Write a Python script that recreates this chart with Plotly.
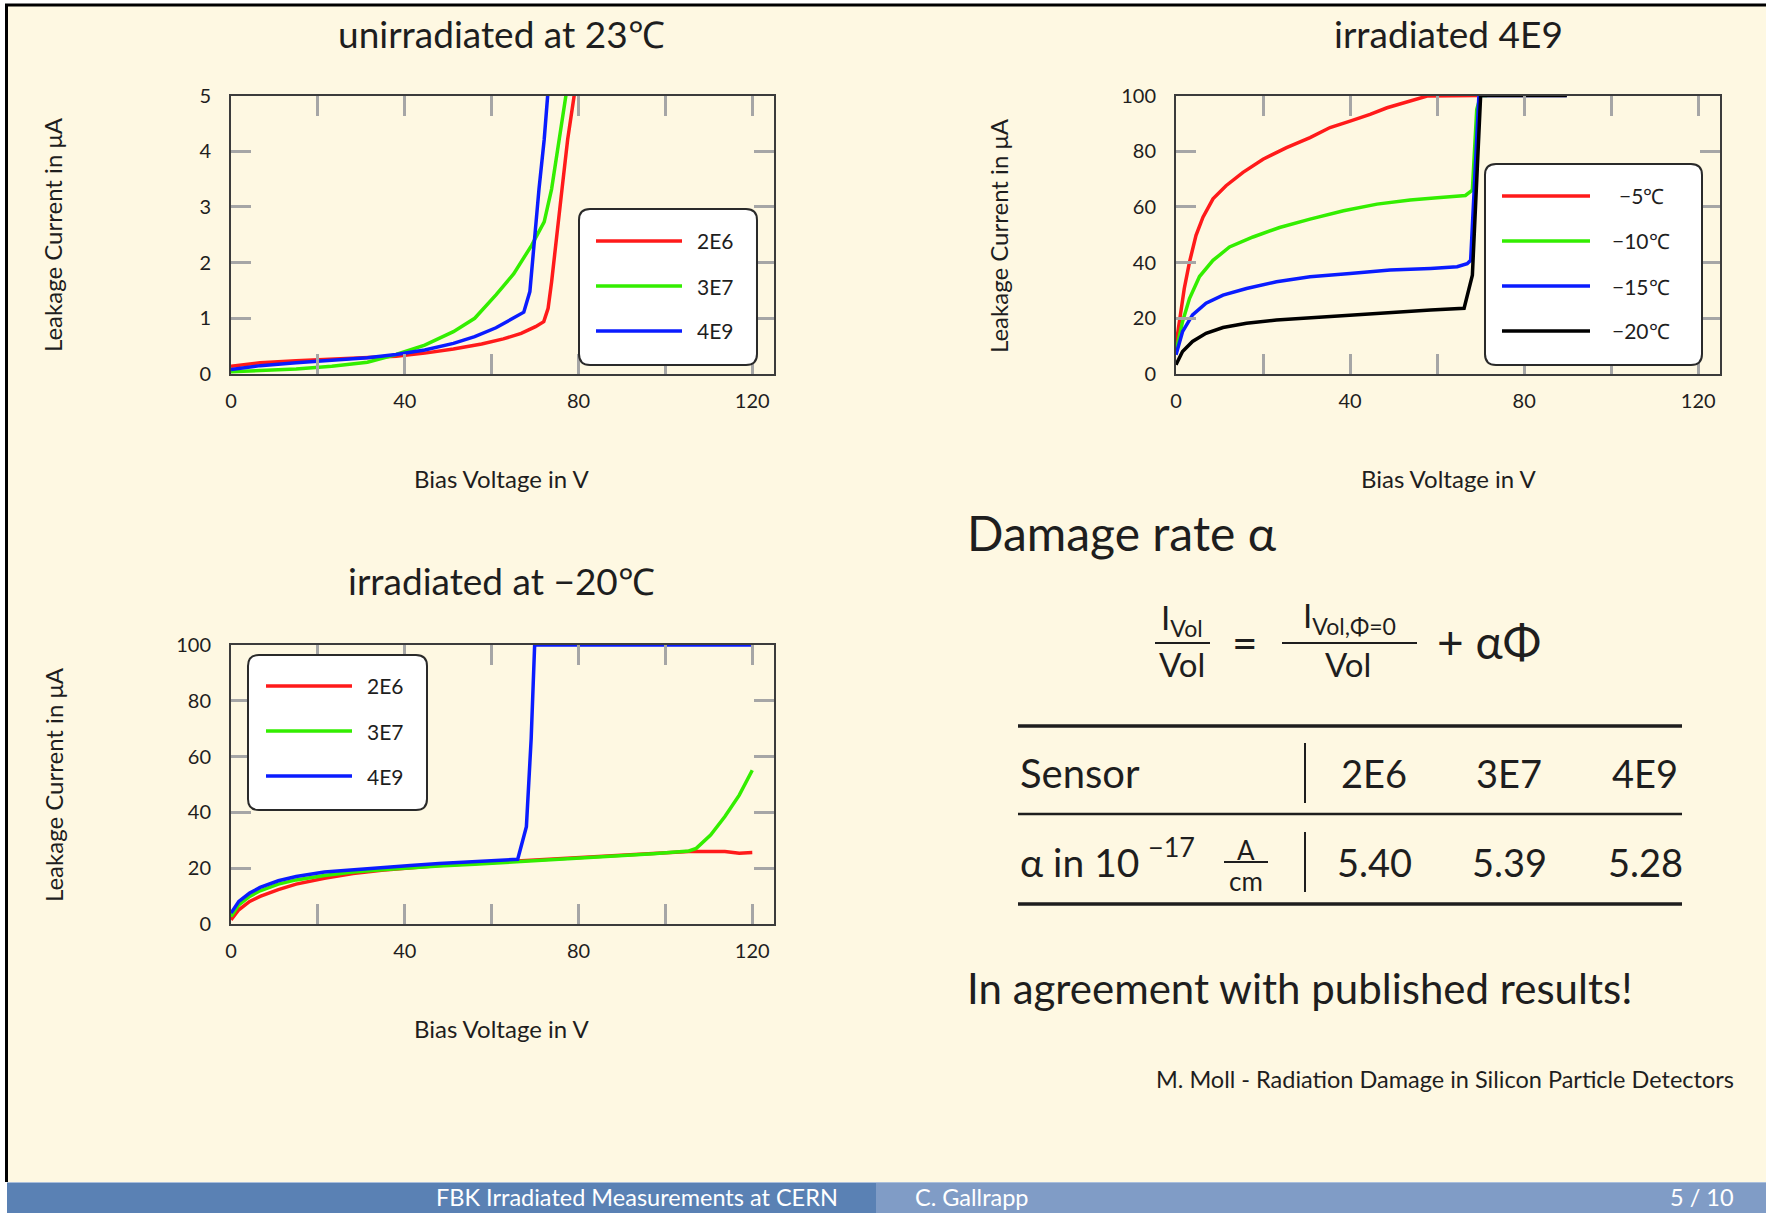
import plotly.graph_objects as go

W, H = 1766, 1213
FONT = "Lato, 'Open Sans', sans-serif"
BG = "#FEF8E2"
INK = "#1e1e1e"

# ---------------- data ----------------
# unirradiated sensors at 23 °C (bias voltage in V, leakage current in µA)
v_unirr_2e6 = [0, 6.7, 15, 23.2, 31.4, 38, 44.6, 51.2, 57.7, 62.7, 66.8, 70.1, 72, 73, 73.8, 75, 76.2, 77.5, 79]
i_unirr_2e6 = [0.14, 0.2, 0.24, 0.27, 0.3, 0.32, 0.375, 0.45, 0.54, 0.63, 0.73, 0.85, 0.94, 1.18, 1.65, 2.43, 3.32, 4.21, 5.0]
v_unirr_3e7 = [0, 6.7, 15, 23.2, 31.4, 38, 44.6, 51.2, 56.1, 61, 65.1, 69.2, 72.1, 73.8, 75.4, 77.1]
i_unirr_3e7 = [0.04, 0.06, 0.09, 0.14, 0.21, 0.35, 0.52, 0.76, 1.0, 1.42, 1.8, 2.31, 2.73, 3.32, 4.15, 5.0]
v_unirr_4e9 = [0, 6.7, 15, 23.2, 31.4, 38, 44.6, 51.2, 56.1, 61, 65.1, 67.4, 68.8, 69.7, 70.9, 72.1, 72.9]
i_unirr_4e9 = [0.08, 0.15, 0.2, 0.24, 0.29, 0.35, 0.43, 0.55, 0.67, 0.83, 1.0, 1.11, 1.48, 2.31, 3.32, 4.21, 5.0]

# sensor 4E9 at several temperatures
v_4e9_m5 = [0, 0.8, 1.9, 3.1, 4.6, 6.2, 8.5, 11.5, 15.4, 20, 25.4, 30.8, 35.4, 40, 44.6, 48.5, 53.8, 57.7, 69.2]
i_4e9_m5 = [10.5, 18.8, 30.7, 40.2, 49.8, 56.3, 62.9, 67.6, 72.4, 77.1, 81.3, 84.9, 88.5, 90.8, 93.2, 95.6, 98, 99.8, 100]
v_4e9_m10 = [0, 1.5, 3.1, 5.4, 8.5, 12.3, 17.7, 23.8, 30.8, 38.5, 46.2, 53.8, 60, 66.5, 68.1, 69.1, 70, 71.5]
i_4e9_m10 = [8, 18.8, 27.1, 35, 40.8, 45.6, 49.2, 52.6, 55.6, 58.6, 61, 62.5, 63.3, 64.1, 66, 95, 100, 100]
v_4e9_m15 = [0, 1.5, 3.8, 6.9, 10.8, 16.2, 23.1, 30.8, 40, 49.2, 58.5, 64.6, 66.9, 67.7, 69.6, 89.8]
i_4e9_m15 = [6.9, 15.2, 21.2, 25.4, 28.3, 30.7, 33.1, 34.9, 36.1, 37.3, 37.9, 38.5, 39.6, 40.8, 100, 100]
v_4e9_m20 = [0, 1.5, 3.8, 6.9, 10.8, 16.2, 23.1, 30.8, 40, 49.2, 58.5, 66.2, 68.1, 70, 89.8]
i_4e9_m20 = [3.3, 8.1, 11.7, 14.6, 16.7, 18.2, 19.4, 20.2, 21.2, 22.1, 23, 23.6, 35.5, 100, 100]

# irradiated sensors measured at -20 °C
v_cold_2e6 = [0, 1.8, 4.3, 6.7, 10.9, 15, 21.5, 28.1, 34.7, 41.3, 47.9, 56.1, 64.3, 72.5, 80.8, 89, 97.2, 105.4, 113.7, 117, 120]
i_cold_2e6 = [1.5, 5.1, 8.1, 9.9, 12.3, 14.3, 16.4, 18.1, 19.3, 20.2, 21, 21.7, 22.4, 23.2, 24, 24.8, 25.5, 26, 26, 25.4, 25.6]
v_cold_3e7 = [0, 1.8, 4.3, 6.7, 10.9, 15, 21.5, 28.1, 34.7, 41.3, 47.9, 56.1, 64.3, 72.5, 80.8, 89, 97.2, 105.4, 107.1, 110.4, 113.7, 117, 120]
i_cold_3e7 = [2.7, 6.9, 9.9, 11.9, 14.3, 15.8, 17.4, 18.6, 19.4, 20.2, 20.8, 21.4, 22.1, 22.9, 23.6, 24.4, 25.2, 26.2, 27.1, 31.9, 38.5, 46.2, 55.1]
v_cold_4e9 = [0, 1.8, 4.3, 6.7, 10.9, 15, 21.5, 28.1, 34.7, 41.3, 47.9, 56.1, 66, 68, 69.1, 69.9, 120]
i_cold_4e9 = [3.9, 8.1, 11.1, 13.1, 15.5, 17, 18.6, 19.5, 20.2, 21, 21.7, 22.4, 23.2, 34.9, 66.4, 100, 100]

sensor_names = ["2E6", "3E7", "4E9"]
temperature_names = ["−5℃", "−10℃", "−15℃", "−20℃"]
alpha_values = ["5.40", "5.39", "5.28"]

x_tick_vals = [0, 20, 40, 60, 80, 100, 120]
x_tick_text = ["0", "", "40", "", "80", "", "120"]
y_ticks_small = [0, 1, 2, 3, 4, 5]
y_ticks_large = [0, 20, 40, 60, 80, 100]

SENSOR_COLORS = ["#ff1a1a", "#33ee00", "#0a1cff"]
TEMP_COLORS = ["#ff1a1a", "#33ee00", "#0a1cff", "#000000"]

# ---------------- helpers ----------------
def px(x):
    return x / W


def py(y):
    return 1 - y / H


fig = go.Figure()


def add_series(xs, ys, color, name, xa, ya):
    fig.add_trace(go.Scatter(x=xs, y=ys, mode="lines", name=name,
                             line=dict(color=color, width=3.5),
                             xaxis=xa, yaxis=ya, showlegend=False,
                             hoverinfo="skip"))


for xs, ys, c, n in zip([v_unirr_2e6, v_unirr_3e7, v_unirr_4e9],
                        [i_unirr_2e6, i_unirr_3e7, i_unirr_4e9], SENSOR_COLORS, sensor_names):
    add_series(xs, ys, c, n, "x", "y")

for xs, ys, c, n in zip([v_4e9_m5, v_4e9_m10, v_4e9_m15, v_4e9_m20],
                        [i_4e9_m5, i_4e9_m10, i_4e9_m15, i_4e9_m20], TEMP_COLORS, temperature_names):
    add_series(xs, ys, c, n, "x2", "y2")

for xs, ys, c, n in zip([v_cold_2e6, v_cold_3e7, v_cold_4e9],
                        [i_cold_2e6, i_cold_3e7, i_cold_4e9], SENSOR_COLORS, sensor_names):
    add_series(xs, ys, c, n, "x3", "y3")


def x_axis(dom, anchor):
    return dict(domain=dom, anchor=anchor, range=[0, 125], tickvals=x_tick_vals,
                ticktext=x_tick_text, ticks="inside", ticklen=20, tickwidth=3,
                tickcolor="#a6a6a6", showline=True, linecolor="#3c3c3c", linewidth=2,
                mirror="ticks", showgrid=False, zeroline=False, fixedrange=True,
                automargin=False,
                ticklabelstandoff=8, tickfont=dict(family=FONT, size=20, color=INK))


def y_axis(dom, anchor, rng, vals):
    return dict(domain=dom, anchor=anchor, range=rng, tickvals=vals, ticks="inside",
                ticklen=20, tickwidth=3, tickcolor="#a6a6a6", showline=True,
                linecolor="#3c3c3c", linewidth=2, mirror="ticks", showgrid=False,
                zeroline=False, fixedrange=True, ticklabelstandoff=14,
                automargin=False,
                tickfont=dict(family=FONT, size=20, color=INK))


left_dom = [px(231), px(774)]
right_dom = [px(1176), px(1720)]
top_dom = [py(374), py(95.5)]
bottom_dom = [py(924), py(645)]

shapes = []
annotations = []


def text(s, x, y, size, xanchor="center", yanchor="middle", color=INK, angle=0):
    annotations.append(dict(text=s, x=px(x), y=py(y), xref="paper", yref="paper",
                            xanchor=xanchor, yanchor=yanchor, showarrow=False,
                            textangle=angle,
                            font=dict(family=FONT, size=size, color=color)))


def hline(x0, x1, y, width, color=INK):
    shapes.append(dict(type="line", xref="paper", yref="paper", x0=px(x0), x1=px(x1),
                       y0=py(y), y1=py(y), line=dict(color=color, width=width)))


def vline(x, y0, y1, width, color=INK):
    shapes.append(dict(type="line", xref="paper", yref="paper", x0=px(x), x1=px(x),
                       y0=py(y0), y1=py(y1), line=dict(color=color, width=width)))


def rect(x0, y0, x1, y1, color, layer="below"):
    shapes.append(dict(type="rect", xref="paper", yref="paper", x0=px(x0), x1=px(x1),
                       y0=py(y0), y1=py(y1), fillcolor=color, line=dict(width=0),
                       layer=layer))


def round_box(x0, y0, x1, y1, r=11):
    pts = [("M", x0 + r, y0), ("L", x1 - r, y0), ("Q", x1, y0, x1, y0 + r),
           ("L", x1, y1 - r), ("Q", x1, y1, x1 - r, y1), ("L", x0 + r, y1),
           ("Q", x0, y1, x0, y1 - r), ("L", x0, y0 + r), ("Q", x0, y0, x0 + r, y0)]
    path = ""
    for p in pts:
        cmd, coords = p[0], p[1:]
        xy = []
        for k in range(0, len(coords), 2):
            xy.append(f"{px(coords[k]):.5f},{py(coords[k + 1]):.5f}")
        path += cmd + " " + " ".join(xy) + " "
    shapes.append(dict(type="path", xref="paper", yref="paper", path=path + "Z",
                       fillcolor="white", line=dict(color="#2a2a2a", width=2),
                       layer="above"))


def key_box(box, names, colors, ys, line_x, label_x, label_anchor):
    round_box(*box)
    for n, c, y in zip(names, colors, ys):
        shapes.append(dict(type="line", xref="paper", yref="paper",
                           x0=px(line_x[0]), x1=px(line_x[1]), y0=py(y), y1=py(y),
                           line=dict(color=c, width=3.5), layer="above"))
        text(n, label_x, y, 21, xanchor=label_anchor)


# ---------------- slide frame ----------------
rect(7, 5, W, 1182, BG)
hline(5, W, 5, 3, "#000000")
vline(6.5, 4, 1182, 3, "#000000")
rect(7, 1182, 876, H, "#5a81b4")
rect(876, 1182, W, H, "#809cc6")
hline(7, W, 1182.5, 1, "#a9bedb")

# ---------------- plot titles and axis labels ----------------
text("unirradiated at 23℃", 502, 33, 37)
text("irradiated 4E9", 1448, 33, 37)
text("irradiated at −20℃", 502, 580, 37)

for (cx, cy) in [(502, 479), (1448, 479), (502, 1028)]:
    text("Bias Voltage in V", cx, cy, 24)
for (cx, cy) in [(53, 235), (999, 235), (53, 785)]:
    text("Leakage Current in μA", cx, cy, 24, angle=-90)

# ---------------- legends ----------------
key_box((579, 209, 757, 365), sensor_names, SENSOR_COLORS, [241, 286, 331],
        (596, 682), 695, "left")
key_box((1485, 164, 1702, 365), temperature_names, TEMP_COLORS, [196, 241, 286, 331],
        (1502, 1590), 1641, "center")
key_box((248, 655, 427, 810), sensor_names, SENSOR_COLORS, [686, 731, 776],
        (266, 352), 365, "left")

# ---------------- damage rate block ----------------
text("Damage rate α", 965, 532, 48, xanchor="left")

# I_Vol / Vol = I_{Vol,Φ=0} / Vol + αΦ
text("I<sub>Vol</sub>", 1182, 619, 33)
hline(1155, 1210, 643, 2)
text("Vol", 1182, 664, 33)
text("=", 1245, 642, 44)
text("I<sub>Vol,Φ=0</sub>", 1349, 617, 33)
hline(1282, 1417, 643, 2)
text("Vol", 1348, 664, 33)
text("+ αΦ", 1489, 641, 46)

# table of damage rates
hline(1018, 1682, 726, 3.5)
hline(1018, 1682, 814, 2.5)
hline(1018, 1682, 904, 3.5)
vline(1305, 743, 803, 2)
vline(1305, 832, 892, 2)

col_x = [1374, 1509, 1645]
text("Sensor", 1018, 773, 40, xanchor="left")
for name, cx in zip(sensor_names, col_x):
    text(name, cx, 773, 38)

text("α in 10", 1018, 862, 39, xanchor="left")
text("−17", 1146, 846, 27, xanchor="left")
text("A", 1246, 850, 26)
hline(1224, 1268, 862, 2)
text("cm", 1246, 881, 26)
for val, cx in zip(alpha_values, col_x):
    text(val, cx, 862, 38)

text("In agreement with published results!", 965, 988, 42, xanchor="left")
text("M. Moll - Radiation Damage in Silicon Particle Detectors", 1736, 1079, 23.5,
     xanchor="right")

# ---------------- footer ----------------
text("FBK Irradiated Measurements at CERN", 840, 1197, 23.5, xanchor="right", color="white")
text("C. Gallrapp", 913, 1197, 23.5, xanchor="left", color="white")
text("5 / 10", 1736, 1197, 23.5, xanchor="right", color="white")

fig.update_layout(
    width=W, height=H,
    margin=dict(l=0, r=0, t=0, b=0, pad=0, autoexpand=False),
    paper_bgcolor="white",
    plot_bgcolor=BG,
    showlegend=False,
    xaxis=x_axis(left_dom, "y"),
    yaxis=y_axis(top_dom, "x", [0, 5], y_ticks_small),
    xaxis2=x_axis(right_dom, "y2"),
    yaxis2=y_axis(top_dom, "x2", [0, 100], y_ticks_large),
    xaxis3=x_axis(left_dom, "y3"),
    yaxis3=y_axis(bottom_dom, "x3", [0, 100], y_ticks_large),
    shapes=shapes,
    annotations=annotations,
)

# the page body gets no margin so the figure fills the window exactly
fig.write_html("out.html", config={"displayModeBar": False},
               post_script="document.body.style.margin='0';"
                           "document.documentElement.style.overflow='hidden';")
